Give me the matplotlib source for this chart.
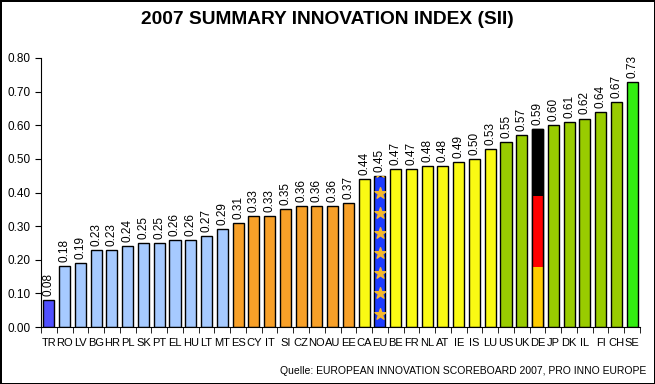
import numpy as np
import matplotlib
matplotlib.use('Agg')
import matplotlib.pyplot as plt
from matplotlib.patches import Rectangle

plt.rcParams['font.family'] = ['Liberation Sans', 'DejaVu Sans']

# Datos del gráfico
paises = ['TR', 'RO', 'LV', 'BG', 'HR', 'PL', 'SK', 'PT', 'EL', 'HU', 'LT', 'MT',
          'ES', 'CY', 'IT', 'SI', 'CZ', 'NO', 'AU', 'EE', 'CA', 'EU', 'BE', 'FR',
          'NL', 'AT', 'IE', 'IS', 'LU', 'US', 'UK', 'DE', 'JP', 'DK', 'IL', 'FI',
          'CH', 'SE']
valores = [0.08, 0.18, 0.19, 0.23, 0.23, 0.24, 0.25, 0.25, 0.26, 0.26, 0.27, 0.29,
           0.31, 0.33, 0.33, 0.35, 0.36, 0.36, 0.36, 0.37, 0.44, 0.45, 0.47, 0.47,
           0.48, 0.48, 0.49, 0.50, 0.53, 0.55, 0.57, 0.59, 0.60, 0.61, 0.62, 0.64,
           0.67, 0.73]
grupos = ['tr'] + ['bajo'] * 11 + ['medio'] * 8 + ['alto', 'eu'] + ['alto'] * 7 + \
         ['lider'] * 2 + ['de'] + ['lider'] * 5 + ['top']
colores = {'tr': '#5050FF', 'bajo': '#A6CAFF', 'medio': '#F7A028', 'alto': '#FAFA14',
           'eu': '#1E3CFF', 'de': '#000000', 'lider': '#99CC00', 'top': '#33EE11'}

fig = plt.figure(figsize=(6.55, 3.84), dpi=100)
fig.patch.set_edgecolor('black')
fig.patch.set_linewidth(2)
ax = fig.add_axes([41 / 655, 57 / 384, 599 / 655, 269 / 384])

x = np.arange(len(paises))
barras = ax.bar(x, valores, width=0.7, color=[colores[g] for g in grupos],
                edgecolor='black', linewidth=1)

for xi, v, g, b in zip(x, valores, grupos, barras):
    ax.text(xi, v + 0.012, f'{v:.2f}', rotation=90, ha='center', va='bottom', fontsize=8.5)
    if g == 'de':
        # bandera alemana
        ax.bar(xi, v * 0.66, width=0.7, color='#FF0000', edgecolor='none', zorder=2.1)
        ax.bar(xi, v * 0.30, width=0.7, color='#FFCC00', edgecolor='none', zorder=2.2)
        ax.add_patch(Rectangle((xi - 0.35, 0), 0.7, v, fill=False, edgecolor='black',
                               linewidth=1, zorder=2.3))
    if g == 'eu':
        sc = ax.scatter(np.full(8, xi), np.arange(0.04, 0.50, 0.06), marker='*', s=70,
                        color='#F5B82E', zorder=3)
        sc.set_clip_path(b)

ax.set_xlim(-0.5, len(paises) - 0.5)
ax.set_ylim(0, 0.8)
ax.set_yticks(np.arange(0, 0.81, 0.1))
ax.set_yticklabels([f'{t:.2f}' for t in np.arange(0, 0.81, 0.1)], fontsize=8.5)
ax.set_xticks(x)
ax.set_xticklabels(paises, fontsize=8)
ax.set_xticks(np.arange(-0.5, len(paises), 1), minor=True)
ax.tick_params(axis='x', which='major', length=0, pad=8)
ax.tick_params(axis='x', which='minor', length=4, direction='out')
ax.tick_params(axis='y', length=4, direction='out')
ax.spines['top'].set_visible(False)
ax.spines['right'].set_visible(False)

fig.text(0.5, 1 - 20 / 384, '2007 SUMMARY INNOVATION INDEX (SII)', ha='center', va='center',
         fontsize=13.8, fontweight='bold')
fig.text(646 / 655, 1 - 371 / 384, 'Quelle: EUROPEAN INNOVATION SCOREBOARD 2007, PRO INNO EUROPE',
         ha='right', va='center', fontsize=7.5)

fig.savefig('out.png', dpi=100, edgecolor=fig.get_edgecolor())
